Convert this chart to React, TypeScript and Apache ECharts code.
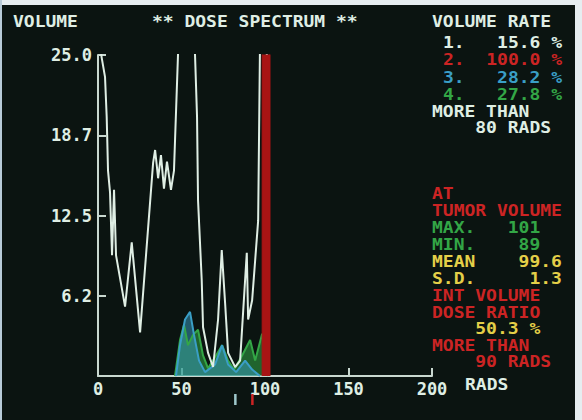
import React, { useEffect, useRef } from "react";
import * as echarts from "echarts";

// ---- data ----
const whiteCurve: [number, number][] = [
  [0, 27], [2.2, 24.8], [4.2, 23.3], [5.2, 20.2], [6.0, 16.0], [7.2, 14.3], [8.4, 9.4],
  [9.6, 14.5], [10.8, 9.4], [16.2, 5.4], [20.2, 10.4], [25.2, 3.4], [33.0, 16.6],
  [34.2, 17.6], [36.0, 15.4], [37.7, 17.2], [39.5, 14.6], [41.3, 16.7], [43.7, 14.5],
  [45.5, 16.0], [47.9, 25], [49, 28], [57, 28], [58.1, 25], [59.3, 20.2], [59.9, 13.7],
  [62.1, 7.5], [62.9, 3.8], [65.9, 1.8], [68.9, 0.7], [71.9, 4.4], [74.1, 9.8],
  [76.1, 5.7], [77.9, 1.8], [82.1, 0.7], [85.1, 1.2], [89.1, 9.6], [89.9, 4.4],
  [92.3, 5.9], [95.9, 12.1], [97.1, 27], [101, 27], [102, 0]
];
const redCurve: [number, number][] = [[98.3, 0], [98.3, 30], [103, 30], [103, 0]];
const blueCurve: [number, number][] = [
  [46.7, 0], [49.1, 2.4], [52.1, 4.4], [55.1, 5.0], [57.5, 3.2], [60.5, 1.2], [64.1, 0.3],
  [70.1, 0.9], [74.3, 2.4], [77.9, 0.9], [82.7, 0.3], [88.1, 1.2], [92.3, 0.5], [97, 0]
];
const greenCurve: [number, number][] = [
  [46.1, 0], [49.1, 2.8], [51.5, 4.0], [53.9, 2.4], [56.9, 3.2], [59.9, 3.6], [62.9, 1.6],
  [65.9, 0.6], [70.7, 1.6], [74.3, 2.4], [77.9, 1.2], [81.5, 0.5], [86.3, 1.6], [91.1, 2.8],
  [94.1, 1.2], [98.3, 3.3], [101.9, 0]
];
const xTicks = [0, 50, 100, 150, 200];
const yTickLabels: Record<string, string> = { "6.25": "6.2", "12.5": "12.5", "18.75": "18.7", "25": "25.0" };
const rateLabels = ["1.", "2.", "3.", "4."];
const rateValues = ["15.6", "100.0", "28.2", "27.8"];
const markerDoses = [82.1, 92.3];
const tumorLabels = ["MAX.", "MIN.", "MEAN", "S.D."];
const tumorValues = ["101", "89", "99.6", "1.3"];
const doseRatio = "50.3";
const volThreshold = 80;
const ratioThreshold = 90;

const WHITE = "#dfeee4";
const RED = "#cc2424";
const CYAN = "#3a9ec6";
const GREEN = "#33a646";
const YELLOW = "#e4cf48";
const BG = "#0b1411";
const FONT = "'DejaVu Sans Mono', monospace";

function txt(text: string, x: number, y: number, fill: string, align = "left") {
  return {
    type: "text", x, y, scaleX: 1.2, z: 20,
    style: { text, fill, fontFamily: FONT, fontSize: 15, fontWeight: "bold", align, verticalAlign: "middle" },
  };
}

export default function App() {
  const ref = useRef<HTMLDivElement>(null);
  useEffect(() => {
    const chart = echarts.init(ref.current!, null, { renderer: "svg" });
    const axisText = { color: WHITE, fontFamily: FONT, fontSize: 17, fontWeight: "bold" as const };
    chart.setOption({
      animation: false,
      backgroundColor: BG,
      grid: { left: 98, right: 150, top: 55, bottom: 44 },
      xAxis: {
        type: "value", min: 0, max: 200, interval: 50,
        axisLine: { lineStyle: { color: "#c9d8d0", width: 2 } },
        axisTick: { inside: true, length: 8, lineStyle: { color: "#c9d8d0", width: 2 } },
        axisLabel: { ...axisText, margin: 4, formatter: (v: number) => (xTicks.includes(v) ? String(v) : "") },
        splitLine: { show: false },
      },
      yAxis: {
        type: "value", min: 0, max: 25, interval: 6.25,
        axisLine: { show: true, lineStyle: { color: "#c9d8d0", width: 2 } },
        axisTick: { show: true, inside: true, length: 8, lineStyle: { color: "#c9d8d0", width: 2 } },
        axisLabel: { ...axisText, margin: 6, formatter: (v: number) => yTickLabels[String(v)] || "" },
        splitLine: { show: false },
      },
      series: [
        { type: "line", data: greenCurve, symbol: "none", z: 2, lineStyle: { color: GREEN, width: 2 }, areaStyle: { color: GREEN, opacity: 0.55 } },
        { type: "line", data: blueCurve, symbol: "none", z: 2, lineStyle: { color: CYAN, width: 2 }, areaStyle: { color: CYAN, opacity: 0.5 } },
        { type: "line", data: whiteCurve, symbol: "none", z: 3, lineStyle: { color: WHITE, width: 2 } },
        { type: "line", data: redCurve, symbol: "none", z: 4, lineStyle: { color: "#a81414", width: 1 }, areaStyle: { color: "#a81414", opacity: 1 } },
      ],
    });

    const markerX = markerDoses.map((d) => chart.convertToPixel({ xAxisIndex: 0 }, d) as number);
    const markerColors = ["#9fc8cc", RED];

    const rateColors = [WHITE, RED, CYAN, GREEN];
    const rateRows = rateLabels.map((l, i) => {
      const s = l + " ".repeat(Math.max(1, 9 - l.length - rateValues[i].length)) + rateValues[i] + " %";
      return txt(s, 443, 43 + i * 17.5, rateColors[i]);
    });
    const tumorColors = [GREEN, GREEN, YELLOW, YELLOW];
    const tumorRows = tumorLabels.map((l, i) => {
      const width = i < 2 ? 10 : 12;
      const s = l + " ".repeat(width - l.length - tumorValues[i].length) + tumorValues[i];
      return txt(s, 432, 228 + i * 17, tumorColors[i]);
    });

    chart.setOption({
      graphic: [
        { type: "rect", shape: { x: 0, y: 0, width: 582, height: 5 }, style: { fill: "#e6edf0" }, z: 30 },
        { type: "rect", shape: { x: 575, y: 0, width: 7, height: 420 }, style: { fill: "#e6edf0" }, z: 30 },
        { type: "rect", shape: { x: 0, y: 0, width: 2, height: 420 }, style: { fill: "#b8cbd8" }, z: 30 },
        txt("VOLUME", 13, 22, WHITE),
        txt("** DOSE SPECTRUM **", 152, 22, WHITE),
        txt("RADS", 465, 385, WHITE),
        txt("VOLUME RATE", 432, 22, WHITE),
        ...rateRows,
        txt("MORE THAN", 432, 112, WHITE),
        txt("    " + volThreshold + " RADS", 432, 128, WHITE),
        txt("AT", 432, 194, RED),
        txt("TUMOR VOLUME", 432, 211, RED),
        ...tumorRows,
        txt("INT VOLUME", 432, 296, RED),
        txt("DOSE RATIO", 432, 313, RED),
        txt("    " + doseRatio + " %", 432, 329, YELLOW),
        txt("MORE THAN", 432, 346, RED),
        txt("    " + ratioThreshold + " RADS", 432, 362, RED),
        ...markerX.map((x, i) => ({
          type: "rect", shape: { x: x - 1, y: 394, width: 2.5, height: 11 }, style: { fill: markerColors[i] }, z: 20,
        })),
      ],
    });
    return () => chart.dispose();
  }, []);
  return <div ref={ref} style={{ position: "fixed", left: 0, top: 0, width: 582, height: 420 }} />;
}
